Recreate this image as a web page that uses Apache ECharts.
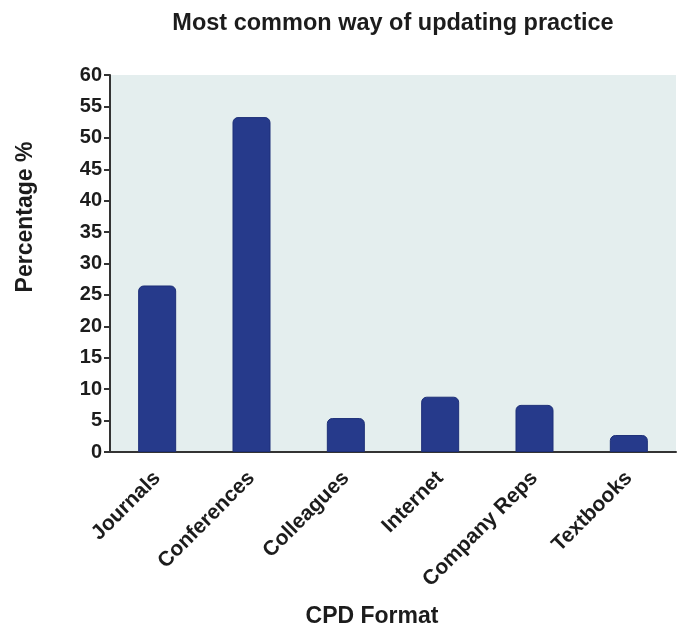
<!DOCTYPE html>
<html>
<head>
<meta charset="utf-8">
<script src="https://cdn.jsdelivr.net/npm/echarts@6/dist/echarts.min.js"></script>
<style>html,body{margin:0;padding:0;background:#fff;}#c{width:684px;height:631px;}</style>
</head>
<body>
<div id="c"></div>
<script>
var categories = ['Journals', 'Conferences', 'Colleagues', 'Internet', 'Company Reps', 'Textbooks'];
var values = [26.5, 53.3, 5.4, 8.8, 7.5, 2.7];
var yTicks = [0, 5, 10, 15, 20, 25, 30, 35, 40, 45, 50, 55, 60];

var chart = echarts.init(document.getElementById('c'));
var font = '"Liberation Sans", Arial, sans-serif';
var txt = '#1c1c1c';
chart.setOption({
  animation: false,
  graphic: [
    {type: 'text', x: 393, y: 24,
     style: {text: 'Most common way of updating practice', font: 'bold 23.5px ' + font, fill: txt,
             textAlign: 'center', textVerticalAlign: 'middle'}},
    {type: 'text', x: 372, y: 617,
     style: {text: 'CPD Format', font: 'bold 23px ' + font, fill: txt,
             textAlign: 'center', textVerticalAlign: 'middle'}},
    {type: 'text', x: 26, y: 217, rotation: Math.PI / 2,
     style: {text: 'Percentage %', font: 'bold 23px ' + font, fill: txt,
             textAlign: 'center', textVerticalAlign: 'middle'}}
  ],
  grid: {left: 110, right: 8, top: 75, bottom: 179, show: true,
         backgroundColor: '#e4eeee', borderWidth: 0},
  xAxis: {
    type: 'category', data: categories,
    axisLine: {lineStyle: {color: '#333', width: 2}},
    axisTick: {alignWithLabel: true, length: 7, lineStyle: {color: '#333', width: 2}},
    axisLabel: {rotate: 45, fontFamily: font, fontWeight: 'bold', fontSize: 21, color: txt, margin: 23, interval: 0}
  },
  yAxis: {
    type: 'value', min: yTicks[0], max: yTicks[yTicks.length - 1], interval: 5,
    axisLine: {show: true, lineStyle: {color: '#333', width: 2}},
    axisTick: {show: true, length: 6, lineStyle: {color: '#333', width: 2}},
    splitLine: {show: false},
    axisLabel: {fontFamily: font, fontWeight: 'bold', fontSize: 20, color: txt, margin: 8}
  },
  series: [{
    type: 'bar', data: values, barWidth: 38,
    itemStyle: {color: '#263a8b', borderColor: '#1d2f78', borderWidth: 1, borderRadius: [5, 5, 0, 0]}
  }]
});
</script>
</body>
</html>
